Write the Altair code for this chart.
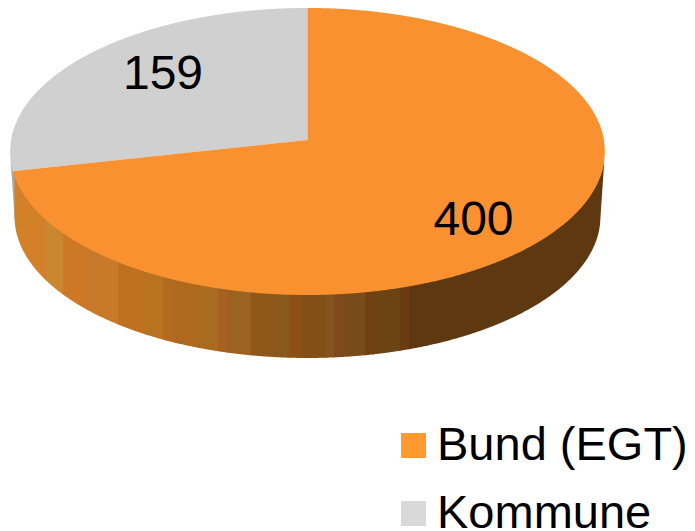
import numpy as np
import pandas as pd
import altair as alt

# ---- data ----
categories = ["Bund (EGT)", "Kommune"]
values = [400, 159]
slice_colors = ["#F99130", "#D0D0D0"]
legend_colors = ["#FF9A2F", "#D9D9D9"]
rim_edges = [14.5, 46, 63, 87, 118, 146, 163, 175, 200, 218, 227, 251, 275, 289,
             302, 325, 334, 348, 365, 372, 391, 400, 409, 605]
rim_colors = ["#D28128", "#CB8730", "#CC7825", "#C67A2A", "#BE701F", "#B7731F",
              "#B5691F", "#AF691F", "#A96B20", "#A6601F", "#9C621F", "#8F5718",
              "#8A5A1C", "#8E5015", "#844F15", "#83541B", "#7E4A1A", "#784C18",
              "#743F10", "#6E4314", "#6A4412", "#6A3A10", "#5E3810"]
rim_back_color = "#A9A9A9"
label_x = [473.5, 163]
label_y = [221, 75]

# ---- view of the 3D pie (perspective disc seen from above) ----
CX, CY = 307.5, 140.0
A, B, K = 296.5, 142.6, 0.08
BOTTOM_SCALE, BOTTOM_DROP = 0.985, 65.3


def project(theta, s=1.0, drop=0.0):
    u, v = np.sin(theta), np.cos(theta)
    d = 1 + K * v
    return CX + s * A * u / d, CY + drop - s * B * v / d


theta = np.linspace(0, 2 * np.pi, 4001)
tx, ty = project(theta)
bx, by = project(theta, BOTTOM_SCALE, BOTTOM_DROP)


def halves(x, y):
    """Return sorted (x, y) of the near and far halves of a projected circle."""
    imax, imin = int(np.argmax(x)), int(np.argmin(x))
    front = (x[imax:imin + 1][::-1], y[imax:imin + 1][::-1])
    back_x = np.concatenate([x[imin:-1], x[:imax + 1]])
    back_y = np.concatenate([y[imin:-1], y[:imax + 1]])
    return front, (back_x, back_y)


(tfx, tfy), (tbx, tby) = halves(tx, ty)
(bfx, bfy), _ = halves(bx, by)
top_front = lambda x: np.interp(x, tfx, tfy)
top_back = lambda x: np.interp(x, tbx, tby)

xl_t, xr_t = tfx[0], tfx[-1]
yl_t, yr_t = tfy[0], tfy[-1]
xl_b, xr_b = bfx[0], bfx[-1]
yl_b, yr_b = bfy[0], bfy[-1]


def bottom_front(x):
    y = np.interp(x, bfx, bfy)
    y = np.where(x < xl_b, yl_t + (yl_b - yl_t) * (x - xl_t) / (xl_b - xl_t), y)
    y = np.where(x > xr_b, yr_b + (yr_t - yr_b) * (x - xr_b) / (xr_t - xr_b), y)
    return y


total = sum(values)
cut = 2 * np.pi * values[0] / total
cut_x, cut_y = project(np.array([cut]))
cut_x, cut_y = float(cut_x[0]), float(cut_y[0])


def spoke(x):
    return CY + (cut_y - CY) * (CX - x) / (CX - cut_x)


# rim
rim_rows = []
def add_rim(key, color, x0, x1):
    xs = np.unique(np.concatenate([np.arange(np.ceil(x0), x1, 1.0), [x0, x1]]))
    xs = xs[(xs >= xl_t) & (xs <= xr_t)]
    for x in xs:
        rim_rows.append(dict(stripe=key, shade=color, px=float(x),
                             py=float(top_front(x)) - 1.5, py2=float(bottom_front(x))))


add_rim("s00", rim_back_color, float(xl_t), rim_edges[0] + 1)
for n, col in enumerate(rim_colors):
    add_rim(f"s{n + 1:02d}", col, rim_edges[n], rim_edges[n + 1] + 1)
rim = pd.DataFrame(rim_rows)

# top slices: grey first, then the two halves of the orange slice on top
slice_rows = []
xs = np.unique(np.concatenate([[xl_t, cut_x, CX], np.arange(np.ceil(xl_t), CX, 1.0)]))
for x in xs:
    lower = top_front(x) if x < cut_x else spoke(x)
    slice_rows.append(dict(part="a", shade=slice_colors[1], px=float(x),
                           py=float(top_back(x)), py2=float(lower)))
xs_o = np.arange(np.ceil(cut_x), xr_t, 1.0)
for x in np.concatenate([[cut_x], xs_o[xs_o < CX + 1], [CX + 1]]):
    slice_rows.append(dict(part="b", shade=slice_colors[0], px=float(x),
                           py=float(spoke(x)), py2=float(top_front(x))))
for x in np.concatenate([[CX], xs_o[xs_o > CX], [xr_t]]):
    slice_rows.append(dict(part="c", shade=slice_colors[0], px=float(x),
                           py=float(top_back(x)), py2=float(top_front(x))))
slices = pd.DataFrame(slice_rows)

# the page's 8px margin leaves 679px of width, so chart pixels = picture pixels - 8
x_scale = alt.Scale(domain=[8, 687], range=[0, 679], nice=False, zero=False)
y_scale = alt.Scale(domain=[531, 8], nice=False, zero=False)
X = alt.X("px:Q", scale=x_scale, axis=None)
Y = alt.Y("py:Q", scale=y_scale, axis=None)

rim_layer = alt.Chart(rim).mark_area(interpolate="linear").encode(
    x=X, y=Y, y2=alt.Y2("py2:Q"),
    color=alt.Color("shade:N", scale=None, legend=None),
    detail="stripe:N")

slice_layer = alt.Chart(slices).mark_area(interpolate="linear").encode(
    x=X, y=Y, y2=alt.Y2("py2:Q"),
    color=alt.Color("shade:N", scale=None, legend=None),
    detail="part:N")

labels = pd.DataFrame({"px": label_x, "py": label_y, "t": [str(v) for v in values]})
label_layer = alt.Chart(labels).mark_text(
    font="Liberation Sans", fontSize=48, color="#000000", align="center", baseline="middle"
).encode(x=X, y=Y, text="t:N")

legend_df = pd.DataFrame({"cat": categories, "px": [300, 300], "py": [300, 300]})
legend_layer = alt.Chart(legend_df).mark_point(filled=True, size=0, opacity=0).encode(
    x=X, y=Y,
    fill=alt.Fill("cat:N",
                  scale=alt.Scale(domain=categories, range=legend_colors),
                  legend=alt.Legend(orient="none", legendX=382, legendY=414, title=None,
                                    symbolType="square", symbolSize=625, symbolOpacity=1,
                                    symbolStrokeWidth=0, labelFont="Liberation Sans",
                                    labelFontSize=47, labelColor="#000000", labelLimit=400,
                                    labelOffset=0, rowPadding=20, padding=0,
                                    values=categories)))

chart = alt.layer(rim_layer, slice_layer, label_layer, legend_layer).properties(
    width=679, height=523, padding=0, autosize=alt.AutoSizeParams(type="none"),
    background="white"
).configure_view(stroke=None)

chart.save("out.html", embed_options={"renderer": "svg", "actions": False})
